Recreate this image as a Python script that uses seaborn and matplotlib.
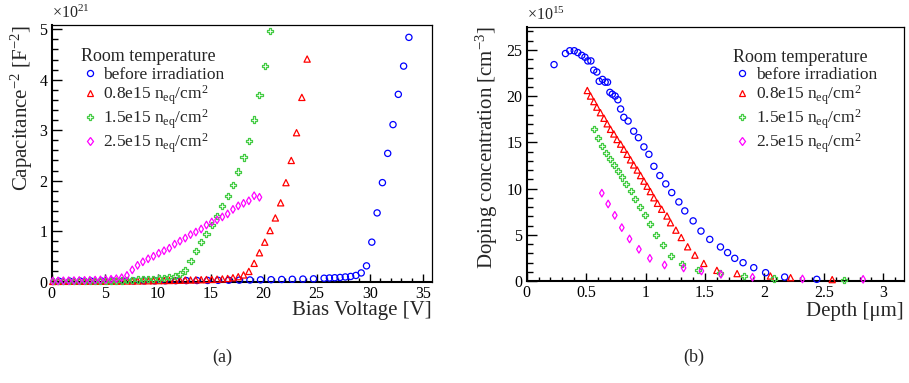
import matplotlib
matplotlib.use('Agg')
import matplotlib.pyplot as plt
import seaborn as sns
import pandas as pd
from matplotlib.ticker import MultipleLocator, FuncFormatter
from matplotlib.lines import Line2D

# ---------------- Panel (a): C^-2 vs bias voltage (units of 1e21 F^-2) -------------
v_before = [0.7, 1.7, 2.7, 3.7, 4.7, 5.7, 6.7, 7.7, 8.7, 9.7, 10.7, 11.7, 12.7,
            13.7, 14.7, 15.7, 16.7, 17.7, 18.7, 19.7, 20.7, 21.7, 22.7, 23.7, 24.7,
            25.7, 26.2, 26.7, 27.2, 27.7, 28.2, 28.7, 29.2, 29.7, 30.2, 30.7, 31.2,
            31.7, 32.2, 32.7, 33.2, 33.7]
c_before = [0.005, 0.006, 0.007, 0.008, 0.009, 0.010, 0.011, 0.012, 0.013, 0.014,
            0.015, 0.017, 0.018, 0.020, 0.021, 0.023, 0.025, 0.027, 0.030, 0.033,
            0.036, 0.040, 0.044, 0.048, 0.053,
            0.065, 0.070, 0.075, 0.080, 0.090, 0.100, 0.120, 0.170, 0.310, 0.780,
            1.360, 1.960, 2.540, 3.110, 3.710, 4.270, 4.840]

v_08 = [0.1, 0.6, 1.1, 1.6, 2.1, 2.6, 3.1, 3.6, 4.1, 4.6, 5.1, 5.6, 6.1, 6.6, 7.1,
        7.6, 8.1, 8.6, 9.1, 9.6, 10.1, 10.6, 11.1, 11.6, 12.1, 12.6, 13.1, 13.6,
        14.1, 14.6, 15.1, 15.6, 16.1, 16.6, 17.1, 17.6, 18.1, 18.6, 19.1, 19.6,
        20.1, 20.6, 21.1, 21.6, 22.1, 22.6, 23.1, 23.6, 24.1]
c_08 = [0.002, 0.003, 0.004, 0.004, 0.005, 0.005, 0.006, 0.006, 0.007, 0.007,
        0.008, 0.008, 0.009, 0.010, 0.011, 0.012, 0.013, 0.014, 0.015, 0.016,
        0.018, 0.019, 0.021, 0.023, 0.025, 0.028, 0.030, 0.033, 0.036, 0.039,
        0.042, 0.046, 0.051, 0.060, 0.075, 0.095, 0.130, 0.200, 0.360, 0.570,
        0.780, 1.010, 1.260, 1.560, 1.960, 2.400, 2.950, 3.650, 4.410]

v_15 = [0.1, 0.6, 1.1, 1.6, 2.1, 2.6, 3.1, 3.6, 4.1, 4.6, 5.1, 5.6, 6.1, 6.6, 7.1,
        7.6, 8.1, 8.6, 9.1, 9.6, 10.1, 10.6, 11.1, 11.6, 12.1, 12.6, 13.1, 13.6,
        14.1, 14.6, 15.1, 15.6, 16.1, 16.6, 17.1, 17.6, 18.1, 18.6, 19.1, 19.6,
        20.1, 20.6]
c_15 = [0.003, 0.004, 0.005, 0.006, 0.007, 0.008, 0.009, 0.010, 0.011, 0.012,
        0.013, 0.015, 0.016, 0.020, 0.030, 0.035, 0.040, 0.045, 0.050, 0.055,
        0.060, 0.070, 0.090, 0.110, 0.150, 0.220, 0.400, 0.600, 0.780, 0.940,
        1.120, 1.300, 1.500, 1.700, 1.920, 2.180, 2.460, 2.790, 3.210, 3.690,
        4.270, 4.960]

v_25 = [0.1, 0.6, 1.1, 1.6, 2.1, 2.6, 3.1, 3.6, 4.1, 4.6, 5.1, 5.6, 6.1, 6.6, 7.1,
        7.6, 8.1, 8.6, 9.1, 9.6, 10.1, 10.6, 11.1, 11.6, 12.1, 12.6, 13.1, 13.6,
        14.1, 14.6, 15.1, 15.6, 16.1, 16.6, 17.1, 17.6, 18.1, 18.6, 19.1, 19.6]
c_25 = [0.010, 0.012, 0.014, 0.016, 0.018, 0.020, 0.022, 0.025, 0.028, 0.032,
        0.037, 0.045, 0.055, 0.075, 0.120, 0.230, 0.320, 0.390, 0.450, 0.500,
        0.560, 0.610, 0.660, 0.740, 0.800, 0.860, 0.930, 0.980, 1.040, 1.120,
        1.180, 1.220, 1.280, 1.340, 1.430, 1.500, 1.550, 1.600, 1.700, 1.670]

# ---------------- Panel (b): doping concentration vs depth (units of 1e15 cm^-3) ----
d_before = [0.23, 0.326, 0.362, 0.40, 0.43, 0.463, 0.49, 0.514, 0.54, 0.564, 0.59,
            0.61, 0.638, 0.66, 0.68, 0.70, 0.72, 0.744, 0.767, 0.79, 0.817, 0.853,
            0.90, 0.94, 0.986, 1.028, 1.07, 1.12, 1.17, 1.22, 1.28, 1.33, 1.40,
            1.466, 1.54, 1.63, 1.69, 1.75, 1.82, 1.91, 2.01, 2.17, 2.44]
n_before = [23.4, 24.6, 24.9, 24.9, 24.7, 24.4, 24.2, 23.8, 23.8, 22.8, 22.6,
            21.6, 21.8, 21.5, 21.5, 20.4, 20.2, 20.0, 19.6, 18.6, 17.7, 17.3,
            16.2, 15.5, 14.5, 13.7, 12.4, 11.4, 10.5, 9.56, 8.55, 7.58, 6.5,
            5.4, 4.5, 3.68, 3.07, 2.45, 1.98, 1.44, 0.9, 0.43, 0.18]

d_08 = [0.51, 0.537, 0.565, 0.59, 0.62, 0.65, 0.677, 0.705, 0.733, 0.76, 0.79,
        0.817, 0.845, 0.873, 0.90, 0.93, 0.958, 0.986, 1.013, 1.04, 1.07, 1.10,
        1.135, 1.18, 1.21, 1.255, 1.30, 1.354, 1.415, 1.49, 1.60, 1.77, 2.05,
        2.22, 2.57]
n_08 = [20.6, 20.0, 19.4, 18.8, 18.2, 17.6, 17.0, 16.4, 15.9, 15.3, 14.8,
        14.25, 13.7, 13.1, 12.55, 12.0, 11.4, 10.8, 10.25, 9.67, 9.0, 8.4,
        7.76, 7.03, 6.3, 5.5, 4.7, 3.7, 2.8, 1.9, 1.15, 0.8, 0.54, 0.36, 0.15]

d_15 = [0.567, 0.598, 0.632, 0.668, 0.70, 0.736, 0.77, 0.80, 0.837, 0.876, 0.912,
        0.95, 0.994, 1.04, 1.087, 1.146, 1.213, 1.306, 1.44, 1.626, 1.826, 2.08,
        2.67]
n_15 = [16.4, 15.5, 14.6, 13.85, 13.2, 12.55, 11.9, 11.2, 10.5, 9.74, 8.9,
        8.04, 7.1, 6.13, 4.98, 3.86, 2.74, 1.8, 1.23, 0.87, 0.54, 0.27, 0.08]

d_25 = [0.632, 0.685, 0.741, 0.80, 0.865, 0.944, 1.036, 1.16, 1.32, 1.47, 1.634,
        1.90, 2.32, 2.83]
n_25 = [9.5, 8.33, 7.1, 5.77, 4.55, 3.43, 2.45, 1.73, 1.41, 1.08, 0.72, 0.40,
        0.22, 0.18]

legend_title = "Room temperature"
labels = ["before irradiation",
          r"0.8e15 n$_{\mathrm{eq}}$/cm$^{\mathrm{2}}$",
          r"1.5e15 n$_{\mathrm{eq}}$/cm$^{\mathrm{2}}$",
          r"2.5e15 n$_{\mathrm{eq}}$/cm$^{\mathrm{2}}$"]
colors = ["#0000ff", "#ff0000", "#44cc44", "#ff00ff"]
markers = ["o", "^", "P", "d"]
sizes = [20, 20, 20, 15]

# ---------------- style ----------------
sns.set_style("ticks")
plt.rcParams['font.family'] = ['Liberation Serif', 'DejaVu Serif']
plt.rcParams['mathtext.fontset'] = 'custom'
plt.rcParams['mathtext.rm'] = 'Liberation Serif'
plt.rcParams['mathtext.it'] = 'Liberation Serif:italic'
plt.rcParams['mathtext.bf'] = 'Liberation Serif:bold'
plt.rcParams['axes.unicode_minus'] = False

W, H = 909, 383
fig = plt.figure(figsize=(W / 100, H / 100), dpi=100)
fig.patch.set_facecolor('white')

def px_axes(l, t, r, b):
    return fig.add_axes([l / W, 1 - b / H, (r - l) / W, (b - t) / H])

axL = px_axes(51.7, 25.0, 431.7, 281.5)
axR = px_axes(526.7, 26.7, 904.0, 281.0)

panel_a = [(v_before, c_before), (v_08, c_08), (v_15, c_15), (v_25, c_25)]
panel_b = [(d_before, n_before), (d_08, n_08), (d_15, n_15), (d_25, n_25)]

for ax, series in ((axL, panel_a), (axR, panel_b)):
    for (xs, ys), col, mk, sz, lab in zip(series, colors, markers, sizes, labels):
        df = pd.DataFrame({"x": xs, "y": ys})
        sns.scatterplot(data=df, x="x", y="y", ax=ax, marker=mk, s=sz,
                        facecolors="none", edgecolor=col, linewidth=0.9,
                        legend=False, clip_on=False, zorder=3)

fmt = FuncFormatter(lambda v, p: f"{v:g}")

def style_axes(ax, xlim, ylim, xmaj, xmin, ymaj, ymin):
    ax.set_xlim(*xlim)
    ax.set_ylim(*ylim)
    ax.xaxis.set_major_locator(MultipleLocator(xmaj))
    ax.xaxis.set_minor_locator(MultipleLocator(xmin))
    ax.yaxis.set_major_locator(MultipleLocator(ymaj))
    ax.yaxis.set_minor_locator(MultipleLocator(ymin))
    ax.xaxis.set_major_formatter(fmt)
    ax.yaxis.set_major_formatter(fmt)
    ax.tick_params(axis='both', which='both', direction='in', top=False,
                   right=False, colors='black', labelsize=11.5, width=1.0)
    ax.tick_params(axis='x', which='major', length=5.5, pad=3)
    ax.tick_params(axis='x', which='minor', length=2.8)
    ax.tick_params(axis='y', which='major', length=7.5, pad=3)
    ax.tick_params(axis='y', which='minor', length=4)
    for side in ('bottom', 'left'):
        ax.spines[side].set_linewidth(1.5)
    for side in ('top', 'right'):
        ax.spines[side].set_linewidth(0.9)
    for s in ax.spines.values():
        s.set_color('black')
        s.set_visible(True)
    ax.grid(False)
    ax.set_facecolor('white')

style_axes(axL, (0, 35.85), (0, 5.085), 5, 1, 1, 0.2)
style_axes(axR, (0, 3.174), (0, 27.5), 0.5, 0.1, 5, 1)

# axis titles (ROOT style: aligned to the end of the axis)
axL.set_xlabel("Bias Voltage [V]", fontsize=15, loc='right')
axL.xaxis.set_label_coords(1.0, -0.115)
axL.xaxis.label.set_va('center')
axL.set_ylabel(r"Capacitance$^{\mathrm{-2}}$ [F$^{\mathrm{-2}}$]", fontsize=15, loc='top')
axL.yaxis.set_label_coords(-0.079, 1.0)
axL.yaxis.label.set_va('center')

axR.set_xlabel("Depth [μm]", fontsize=15, loc='right')
axR.xaxis.set_label_coords(1.0, -0.118)
axR.xaxis.label.set_va('center')
axR.set_ylabel(r"Doping concentration [cm$^{\mathrm{-3}}$]", fontsize=15, loc='top')
axR.yaxis.set_label_coords(-0.106, 1.0)
axR.yaxis.label.set_va('center')

# exponent labels
axL.text(0.0, 1.01, r"$\times$10$^{\mathrm{21}}$", transform=axL.transAxes,
         fontsize=11.5, ha='left', va='bottom')
axR.text(0.0, 1.01, r"$\times$10$^{\mathrm{15}}$", transform=axR.transAxes,
         fontsize=11.5, ha='left', va='bottom')

# legends (title drawn as its own text so the entry rows can be packed tightly)
def make_legend(ax, title_xy, anchor):
    ax.text(title_xy[0], title_xy[1], legend_title, transform=ax.transAxes,
            fontsize=13, ha='left', va='center')
    handles = [Line2D([], [], marker=m, linestyle='none', markerfacecolor='none',
                      markeredgecolor=c, markersize=4.4, markeredgewidth=0.9)
               for m, c in zip(markers, colors)]
    leg = ax.legend(handles, labels, loc='upper left',
                    bbox_to_anchor=anchor, frameon=False, fontsize=12.5,
                    handlelength=1.05, handletextpad=0.25,
                    labelspacing=0.02, borderpad=0, borderaxespad=0)
    return leg

make_legend(axL, (0.076, 0.879), (0.076, 0.836))
make_legend(axR, (0.547, 0.877), (0.547, 0.841))

# captions
fig.text(222 / W, 1 - 357 / H, "(a)", ha='center', va='center', fontsize=13)
fig.text(694 / W, 1 - 357 / H, "(b)", ha='center', va='center', fontsize=13)

fig.savefig("out.png", dpi=100, facecolor='white')
